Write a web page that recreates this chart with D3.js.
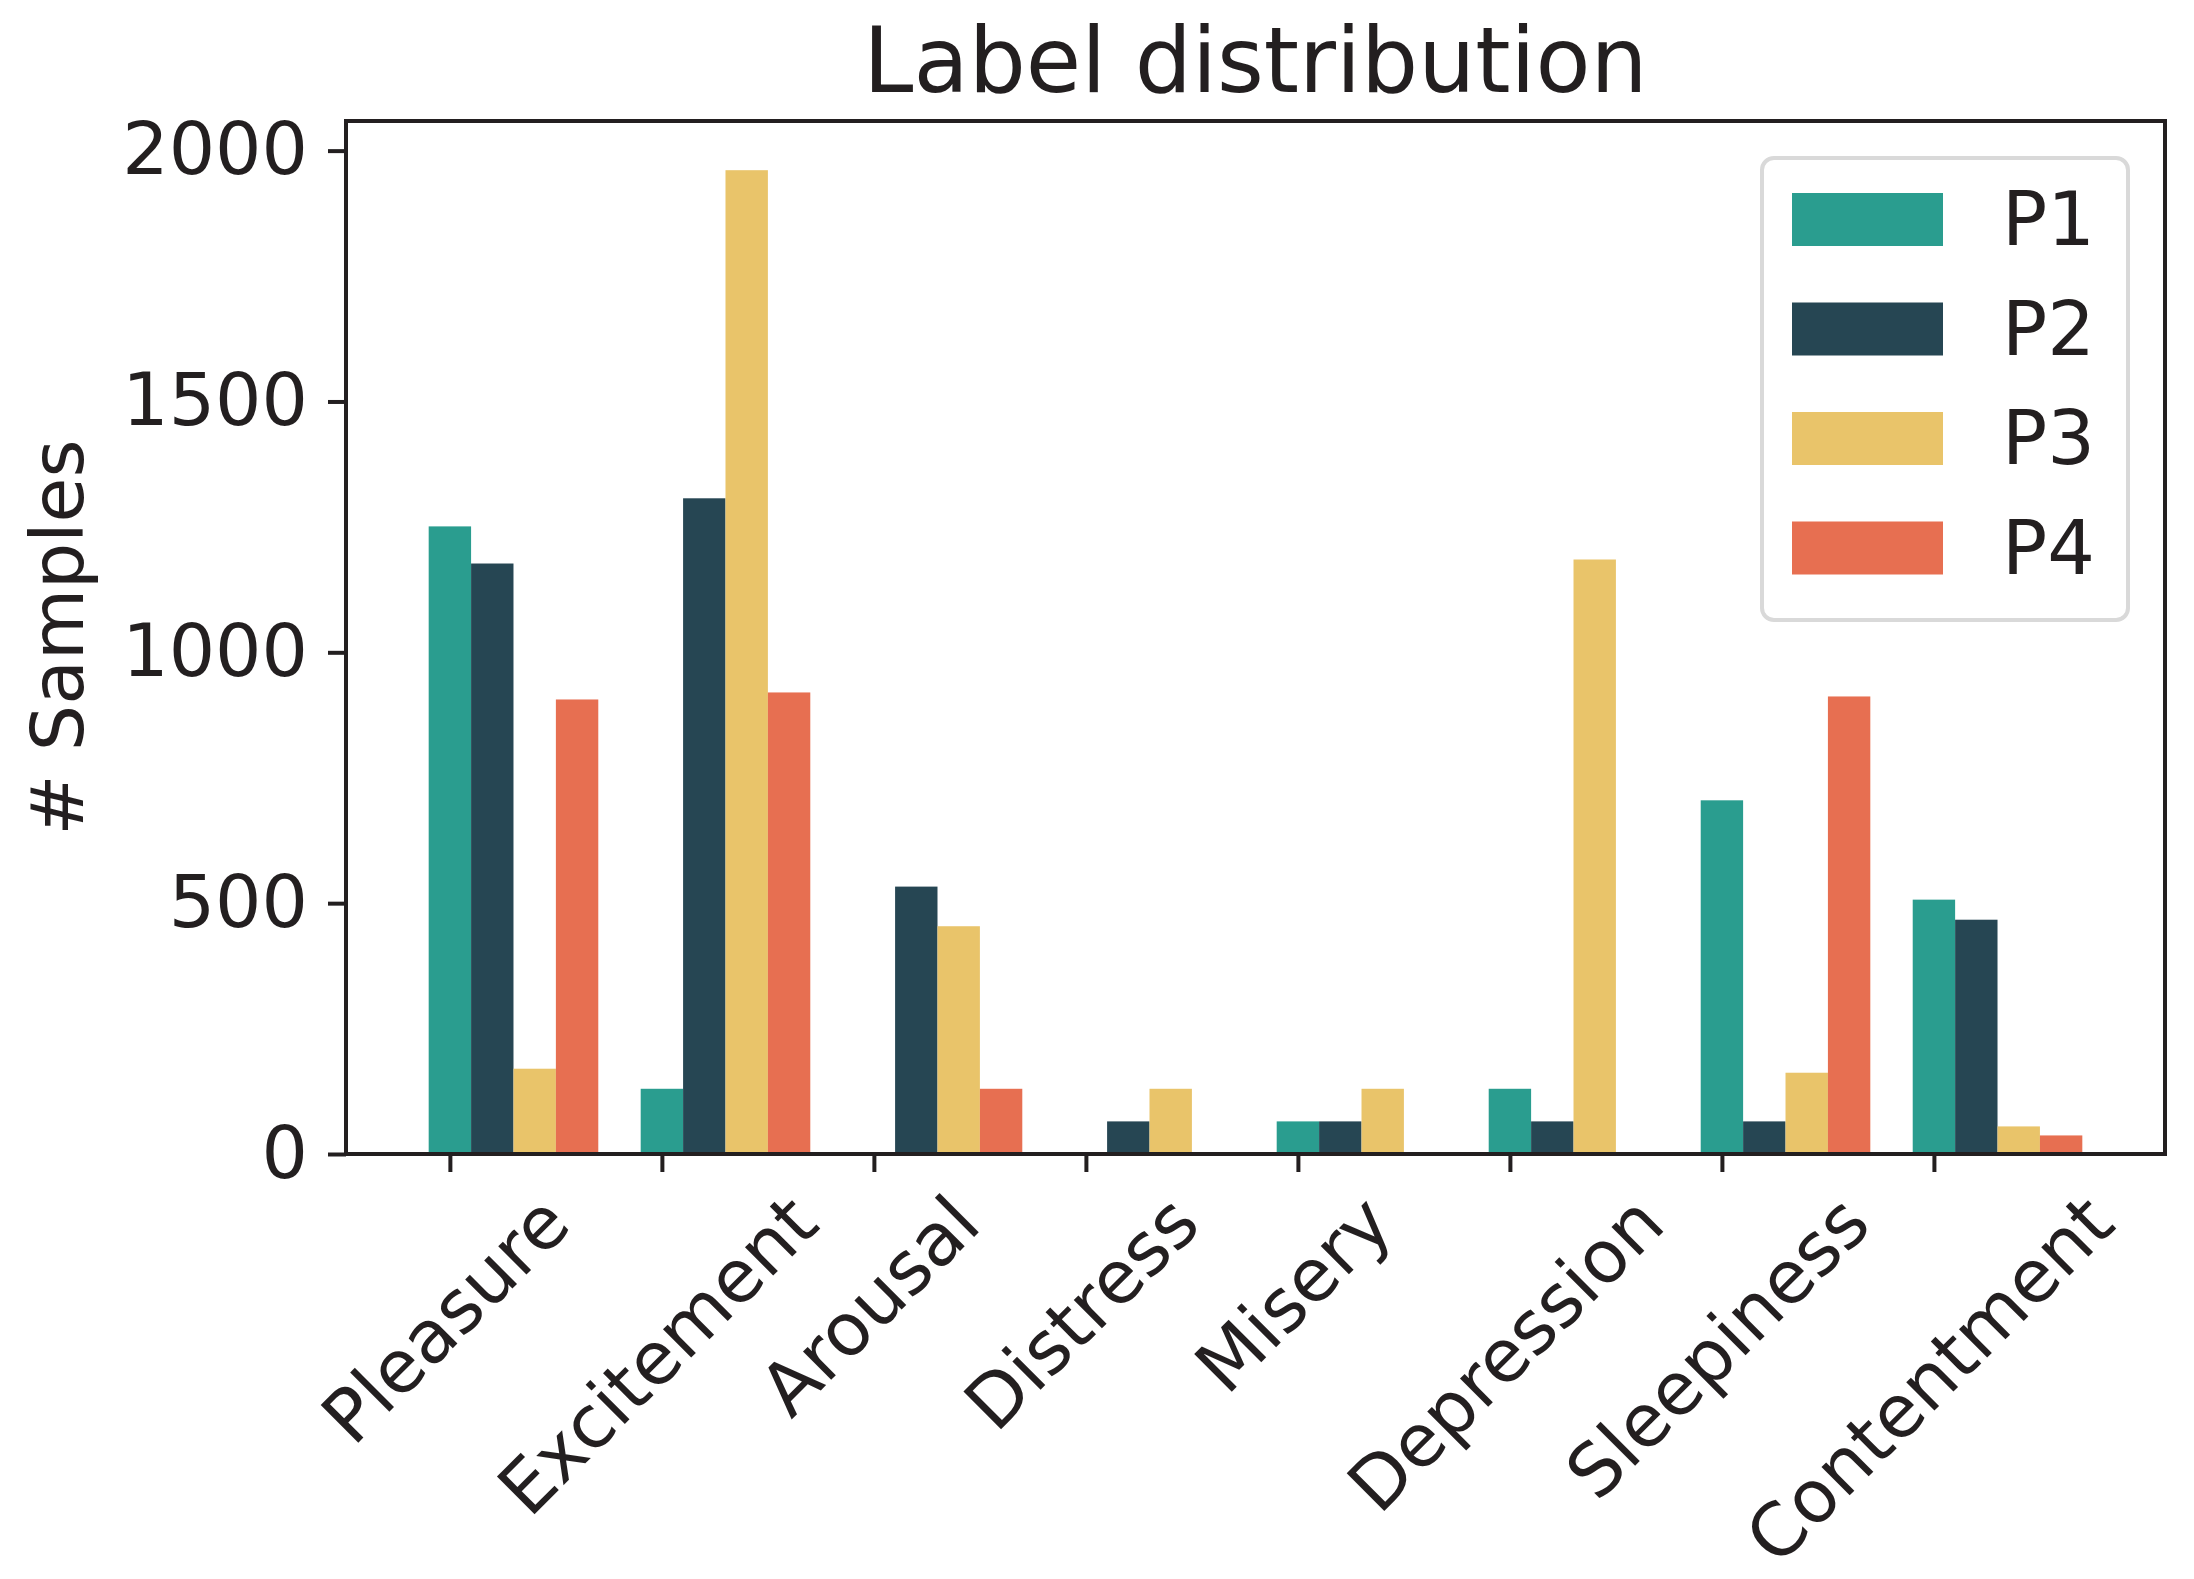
<!DOCTYPE html>
<html>
<head>
<meta charset="utf-8">
<script src="https://cdn.jsdelivr.net/npm/d3@7"></script>
<style>
  body { margin: 0; background: #fff; }
  svg text { font-family: 'DejaVu Sans', sans-serif; fill: #231f20; }
</style>
</head>
<body>
<div id="chart"></div>
<script>

// chart data
var categories = ['Pleasure', 'Excitement', 'Arousal', 'Distress', 'Misery', 'Depression', 'Sleepiness', 'Contentment'];
var series_names = ['P1', 'P2', 'P3', 'P4'];
var series_colors = ['#2a9d8f', '#264653', '#e9c46a', '#e76f51'];

var p1_values = [1251, 130, 0, 0, 65, 130, 705, 507];
var p2_values = [1177, 1307, 533, 65, 65, 65, 65, 467];
var p3_values = [170, 1961, 454, 130, 130, 1185, 162, 55];
var p4_values = [906, 920, 130, 0, 0, 0, 912, 37];

var y_ticks = [0, 500, 1000, 1500, 2000];

var all_series = [p1_values, p2_values, p3_values, p4_values];

var width = 2194;
var height = 1579;
var bar_width = 0.2;
var tick_font = 73;
var legend_font = 75;
var text_color = '#231f20';

var svg = d3.select('#chart')
  .append('svg')
  .attr('width', width)
  .attr('height', height);

// bars sit at i + j*w (like pandas/matplotlib offsets), x margins of 5%
var x_min = -bar_width / 2;
var x_max = (categories.length - 1) + (series_names.length - 1) * bar_width + bar_width / 2;
var x_pad = (x_max - x_min) * 0.05;

var x = d3.scaleLinear()
  .domain([x_min - x_pad, x_max + x_pad])
  .range([346, 2165]);

var y_max = d3.max(all_series, function(s){ return d3.max(s); }) * 1.05;

var y = d3.scaleLinear()
  .domain([0, y_max])
  .range([1154, 121]);

// bars
var bar_groups = svg.selectAll('.series')
  .data(all_series)
  .enter()
  .append('g')
  .classed('series', true)
  .attr('fill', function(d, j){ return series_colors[j]; });

bar_groups.each(function(values, j){
  d3.select(this).selectAll('rect')
    .data(values)
    .enter()
    .append('rect')
    .attr('x', function(d, i){ return x(i + j * bar_width - bar_width / 2); })
    .attr('width', x(bar_width) - x(0))
    .attr('y', function(d){ return y(d); })
    .attr('height', function(d){ return y(0) - y(d); });
});

// y axis
var y_axis = d3.axisLeft(y)
  .tickValues(y_ticks)
  .tickFormat(d3.format('d'))
  .tickSize(18)
  .tickPadding(20);

var y_axis_g = svg.append('g')
  .attr('transform', 'translate(' + x.range()[0] + ',0)')
  .call(y_axis);

y_axis_g.select('.domain').remove();
y_axis_g.selectAll('.tick line')
  .attr('stroke', text_color)
  .attr('stroke-width', 4);
y_axis_g.selectAll('.tick text')
  .attr('font-size', tick_font)
  .attr('fill', text_color)
  .style('font-family', 'DejaVu Sans');

// x axis ticks
var x_axis = d3.axisBottom(x)
  .tickValues(d3.range(categories.length))
  .tickFormat('')
  .tickSize(18);

var x_axis_g = svg.append('g')
  .attr('transform', 'translate(0,' + y(0) + ')')
  .call(x_axis);

x_axis_g.select('.domain').remove();
x_axis_g.selectAll('.tick line')
  .attr('stroke', text_color)
  .attr('stroke-width', 4);

// rotated category labels, bbox centred on the tick (matplotlib rotation=45)
var label_top = y(0) + 18 + 16;
var box_h = tick_font;
var sin45 = Math.SQRT1_2;

svg.selectAll('.x_label')
  .data(categories)
  .enter()
  .append('text')
  .classed('x_label', true)
  .attr('font-size', tick_font)
  .attr('text-anchor', 'middle')
  .attr('dy', '0.262em')
  .text(function(d){ return d; })
  .attr('transform', function(d, i){
    var w = this.getComputedTextLength();
    var cy = label_top + (w + box_h) * sin45 / 2;
    return 'translate(' + x(i) + ',' + cy + ') rotate(-45)';
  });

// frame
svg.append('rect')
  .attr('x', x.range()[0])
  .attr('y', y.range()[1])
  .attr('width', x.range()[1] - x.range()[0])
  .attr('height', y.range()[0] - y.range()[1])
  .attr('fill', 'none')
  .attr('stroke', text_color)
  .attr('stroke-width', 4);

// title and y label
svg.append('text')
  .attr('x', (x.range()[0] + x.range()[1]) / 2)
  .attr('y', 92)
  .attr('text-anchor', 'middle')
  .attr('font-size', 90)
  .text('Label distribution');

svg.append('text')
  .attr('transform', 'translate(83,' + ((y.range()[0] + y.range()[1]) / 2) + ') rotate(-90)')
  .attr('text-anchor', 'middle')
  .attr('font-size', tick_font)
  .text('# Samples');

// legend
var legend = svg.append('g')
  .attr('transform', 'translate(1762,158)');

legend.append('rect')
  .attr('width', 366)
  .attr('height', 462)
  .attr('rx', 12)
  .attr('fill', '#fff')
  .attr('fill-opacity', 0.8)
  .attr('stroke', '#d9d9d9')
  .attr('stroke-width', 4);

var legend_items = legend.selectAll('.legend_item')
  .data(series_names)
  .enter()
  .append('g')
  .classed('legend_item', true)
  .attr('transform', function(d, j){ return 'translate(30,' + (35 + j * 109.5) + ')'; });

legend_items.append('rect')
  .attr('width', 151)
  .attr('height', 53)
  .attr('fill', function(d, j){ return series_colors[j]; });

legend_items.append('text')
  .attr('x', 210)
  .attr('y', 52)
  .attr('font-size', legend_font)
  .text(function(d){ return d; });

</script>
</body>
</html>
